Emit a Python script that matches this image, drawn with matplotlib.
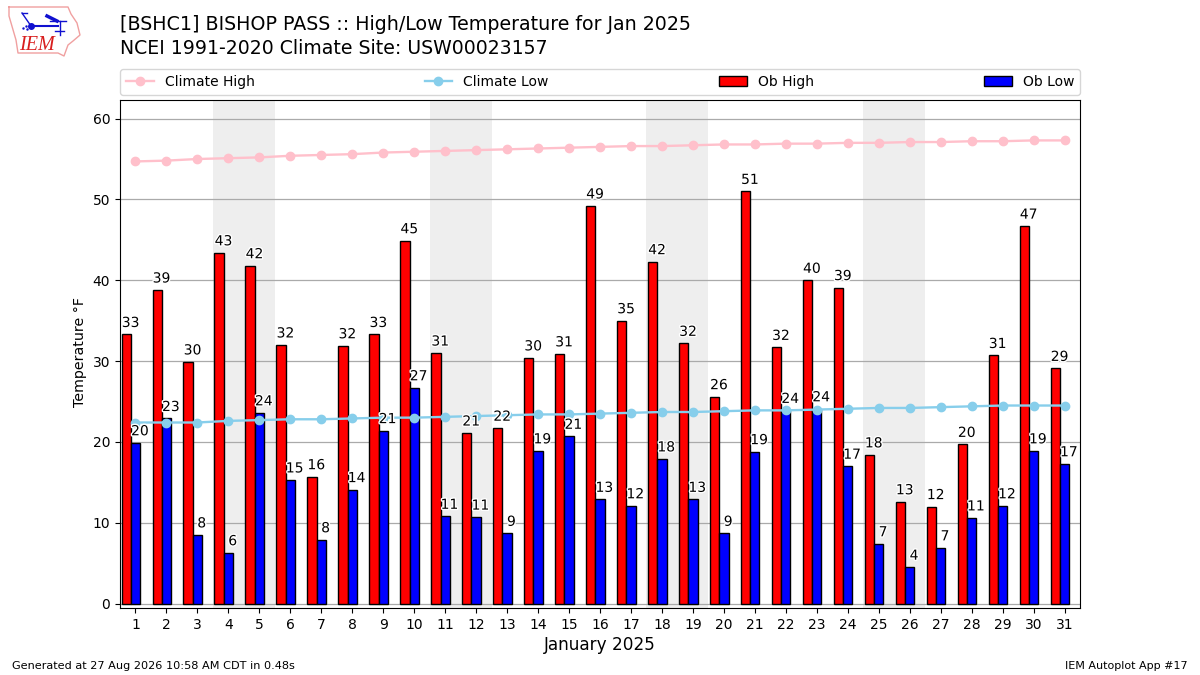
import matplotlib
matplotlib.use('Agg')
import matplotlib.pyplot as plt
import matplotlib.patheffects as pe

days = list(range(1, 32))
ob_high = [33.3, 38.8, 29.9, 43.4, 41.8, 32.0, 15.7, 31.9, 33.3, 44.9, 31.0,
           21.1, 21.7, 30.4, 30.9, 49.2, 35.0, 42.3, 32.2, 25.6, 51.0, 31.7,
           40.0, 39.1, 18.4, 12.6, 12.0, 19.7, 30.7, 46.7, 29.1]
ob_low = [19.9, 22.9, 8.5, 6.3, 23.6, 15.3, 7.9, 14.1, 21.4, 26.7, 10.8, 10.7,
          8.7, 18.9, 20.7, 12.9, 12.1, 17.9, 12.9, 8.7, 18.8, 23.9, 24.1, 17.0,
          7.4, 4.5, 6.9, 10.6, 12.1, 18.9, 17.3]
climate_high = [54.7, 54.8, 55.0, 55.1, 55.2, 55.4, 55.5, 55.6, 55.8, 55.9,
                56.0, 56.1, 56.2, 56.3, 56.4, 56.5, 56.6, 56.6, 56.7, 56.8,
                56.8, 56.9, 56.9, 57.0, 57.0, 57.1, 57.1, 57.2, 57.2, 57.3,
                57.3]
climate_low = [22.4, 22.4, 22.4, 22.6, 22.7, 22.8, 22.8, 22.9, 23.0, 23.0,
               23.1, 23.2, 23.3, 23.4, 23.4, 23.5, 23.6, 23.7, 23.7, 23.8,
               23.9, 23.9, 24.0, 24.1, 24.2, 24.2, 24.3, 24.4, 24.5, 24.5,
               24.5]
weekends = [(4, 5), (11, 12), (18, 19), (25, 26)]

# logo outline, in logo pixel coords
iowa_x = [9, 68, 71, 77, 80, 73, 68, 64, 58, 18, 16, 9, 9]
iowa_y = [7, 7, 14, 23, 35, 41, 45, 56, 53, 53, 40, 16, 7]

fig = plt.figure(figsize=(12, 6.75), dpi=100)
ax = fig.add_axes([120 / 1200, 1 - 608 / 675, 960 / 1200, 508 / 675])

for start, end in weekends:
    ax.axvspan(start - 0.5, end + 0.5, color='#eeeeee', lw=0, zorder=0)

ax.bar([d - 0.3 for d in days], ob_high, width=0.3, color='r', edgecolor='k',
       label='Ob High', zorder=2)
ax.bar(days, ob_low, width=0.3, color='b', edgecolor='k', label='Ob Low',
       zorder=2)
ax.plot(days, climate_high, color='pink', marker='o', lw=1.7, label='Climate High',
        zorder=3)
ax.plot(days, climate_low, color='skyblue', marker='o', lw=1.7, label='Climate Low',
        zorder=3)

halo = [pe.withStroke(linewidth=2, foreground='white')]
for d, hi, lo in zip(days, ob_high, ob_low):
    ax.text(d - 0.16, hi + 0.55, f'{hi:.0f}', ha='center', va='bottom',
            fontsize=10, path_effects=halo, zorder=4)
    ax.text(d + 0.14, lo + 0.55, f'{lo:.0f}', ha='center', va='bottom',
            fontsize=10, path_effects=halo, zorder=4)

ax.set_xlim(0.5, 31.5)
ax.set_ylim(-0.55, 62.3)
ax.set_xticks(days)
ax.set_yticks(range(0, 61, 10))
ax.set_axisbelow(True)
ax.grid(axis='y', color='#aaaaaa', lw=0.9)
ax.set_ylabel('Temperature °F', fontsize=10.2, labelpad=4, y=0.503)
ax.set_xlabel('January 2025', fontsize=12.2, labelpad=3)

handles, labels = ax.get_legend_handles_labels()
order = [labels.index(n) for n in ('Climate High', 'Climate Low', 'Ob High', 'Ob Low')]
ax.legend([handles[i] for i in order], [labels[i] for i in order], ncol=4,
          mode='expand', loc='lower left', bbox_to_anchor=(0, 1.01, 1, 0.06),
          borderaxespad=0, fontsize=10, borderpad=0.42)

fig.text(120 / 1200, 1 - 30 / 675,
         '[BSHC1] BISHOP PASS :: High/Low Temperature for Jan 2025', fontsize=13.65,
         va='baseline')
# second title line sits on its own baseline
fig.text(120 / 1200, 1 - 54 / 675, 'NCEI 1991-2020 Climate Site: USW00023157',
         fontsize=13.6, va='baseline')
fig.text(12 / 1200, 1 - 669 / 675, 'Generated at 27 Aug 2026 10:58 AM CDT in 0.48s',
         fontsize=8.1, va='baseline')
fig.text(1188 / 1200, 1 - 669 / 675, 'IEM Autoplot App #17', fontsize=8, ha='right',
         va='baseline')

# rough version of the IEM logo
logo = fig.add_axes([0, 1 - 60 / 675, 85 / 1200, 60 / 675])
logo.set_xlim(0, 85)
logo.set_ylim(60, 0)
logo.axis('off')
logo.plot(iowa_x, iowa_y, color='#f0a0a0', lw=1)
logo.plot([31, 58], [26, 26], color='#1010d0', lw=1.5)
logo.plot([31], [26], 'o', color='#1010d0', ms=4)
logo.plot([22, 31], [13, 26], color='#1010d0', lw=1)
logo.plot([22, 27], [13, 13], color='#1010d0', lw=1)
logo.plot([47, 57], [16, 21], color='#1010d0', lw=2.5)
logo.plot([50, 66], [21, 21], color='#1010d0', lw=1)
logo.plot([60, 60], [21, 35], color='#1010d0', lw=1)
logo.plot([23, 26, 27], [28, 26, 29], '.', color='#1010d0', ms=1.5)
logo.plot([55, 64], [31, 31], color='#1010d0', lw=1)
logo.text(37, 45, 'IEM', color='#d81e1e', family='Liberation Serif', style='italic',
          fontsize=14.5, ha='center', va='center')

fig.savefig('out.png', dpi=100)
